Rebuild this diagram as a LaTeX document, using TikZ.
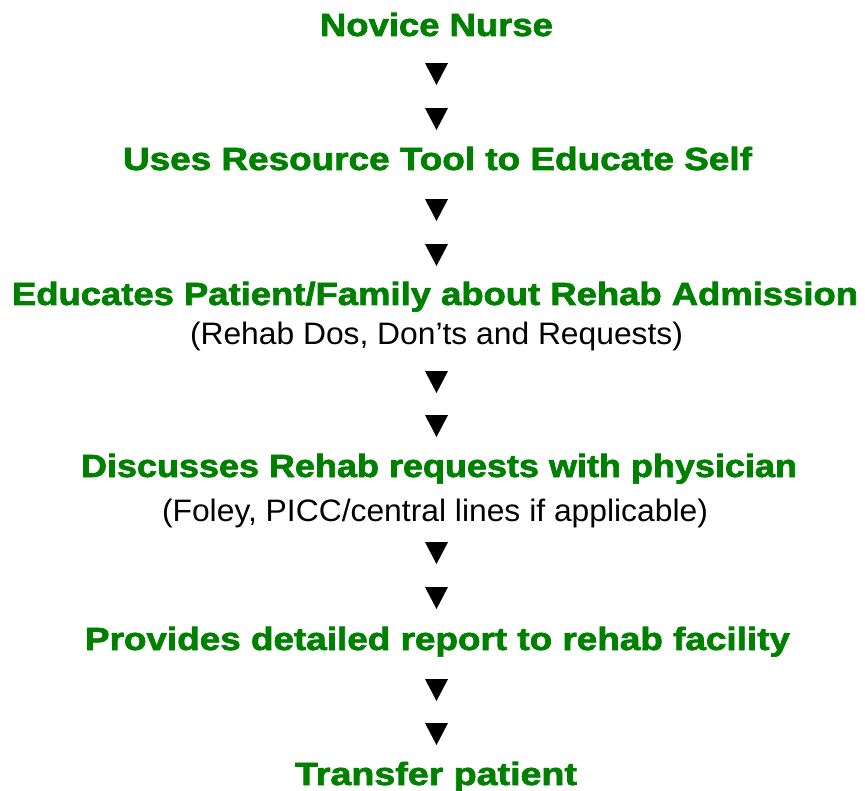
\documentclass[tikz,border=0pt]{standalone}
\usepackage{fontspec}
\usepackage{graphicx}
\usetikzlibrary{shapes.geometric}
\setmainfont{Liberation Sans}
\newfontfamily\heavyfont[FakeBold=2]{Liberation Sans Bold}
\definecolor{stepgreen}{RGB}{0,128,0}
% squeeze or widen one line of text to a given width (in pt)
\newsavebox\linebox
\newcommand\fitline[2]{\sbox\linebox{#2}\pgfmathsetmacro\linescale{#1/\the\wd\linebox}\scalebox{\linescale}[1]{\usebox\linebox}}
\tikzset{
  steptext/.style={text=stepgreen,font=\fontsize{32}{32}\selectfont\heavyfont,inner sep=0pt,anchor=base},
  notetext/.style={text=black,font=\fontsize{31}{31}\selectfont,inner sep=0pt,anchor=base},
  downtri/.style={isosceles triangle,isosceles triangle stretches,shape border rotate=270,
    fill=black,draw=none,inner sep=0pt,minimum width=23pt,minimum height=22pt}
}
\begin{document}
\begin{tikzpicture}[x=1pt,y=-1pt]
    \useasboundingbox (0,0) rectangle (865,791);

    % steps
    \node[steptext] (novice) at (436.5,36) {\fitline{233}{Novice Nurse}};
    \node[steptext] (selfedu) at (437.5,170) {\fitline{629}{Uses Resource Tool to Educate Self}};
    \node[steptext] (educate) at (435,305) {\fitline{846}{Educates Patient/Family about Rehab Admission}};
    \node[notetext] (educatenote) at (436.5,345) {\fitline{493}{(Rehab Dos, Don’ts and Requests)}};
    \node[steptext] (discuss) at (439,477) {\fitline{716}{Discusses Rehab requests with physician}};
    \node[notetext] (discussnote) at (435,521) {\fitline{546}{(Foley, PICC/central lines if applicable)}};
    \node[steptext] (report) at (437.5,650) {\fitline{705}{Provides detailed report to rehab facility}};
    \node[steptext] (transfer) at (436,785) {\fitline{282}{Transfer patient}};

    % arrow marks between steps
    \foreach \y [count=\i] in {70,115,206,251,378,422,549,594,686,730} {
      \node[downtri] (tri\i) at (436.5,\y) {};
    }
\end{tikzpicture}
\end{document}
